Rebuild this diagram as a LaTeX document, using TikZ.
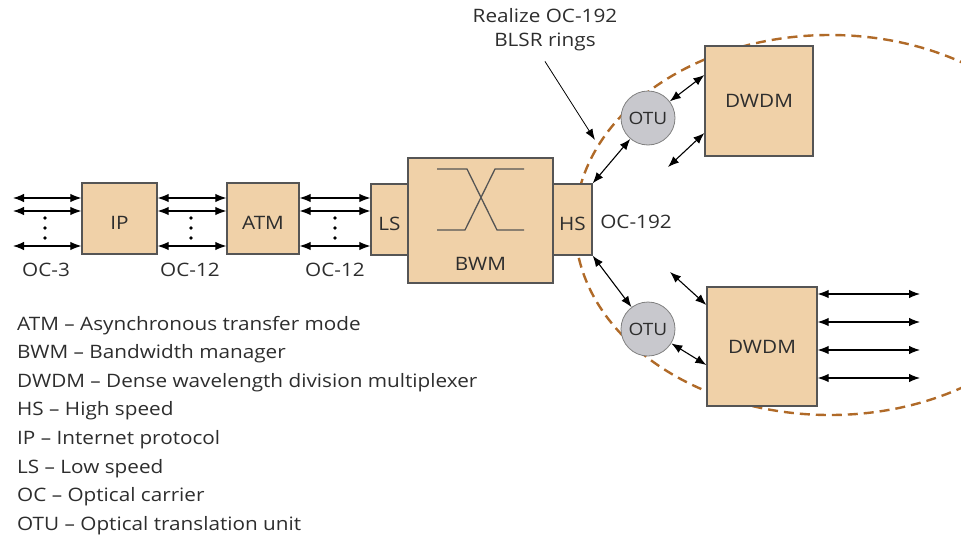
\documentclass[tikz,border=0pt]{standalone}
\usepackage{fontspec}
\setmainfont[FakeStretch=1.12]{Open Sans}
\usepackage{tikz}
\usetikzlibrary{
  arrows.meta,
  positioning
}
\definecolor{boxtan}{RGB}{240,209,168}
\definecolor{boxedge}{RGB}{85,85,85}
\definecolor{otugray}{RGB}{200,200,205}
\definecolor{ringbrown}{RGB}{176,106,40}
\definecolor{inkgray}{RGB}{45,45,45}

\begin{document}
\begin{tikzpicture}[x=1pt,y=-1pt,
  unit/.style={draw=boxedge,line width=1.3pt,fill=boxtan,inner sep=0pt,
    text=inkgray,font=\fontsize{18.5}{22}\selectfont},
  lowtext/.style={text height=21pt,text depth=0pt},
  otu/.style={circle,draw=black!50,line width=0.8pt,fill=otugray,
    minimum size=54pt,inner sep=0pt,text=inkgray,font=\fontsize{17}{20}\selectfont},
  link/.style={black,line width=1.1pt,
    {Latex[length=11pt,width=8.5pt]}-{Latex[length=11pt,width=8.5pt]}},
  lbl/.style={text=inkgray,inner sep=0pt,font=\fontsize{18.5}{22}\selectfont}]
  \useasboundingbox (0,0) rectangle (961,538);

  \begin{scope}
    \clip (0,0) rectangle (961,538);
    \draw[ringbrown,line width=2.4pt,dash pattern=on 10pt off 6pt]
      (830,225) ellipse [x radius=255pt,y radius=190pt];
  \end{scope}

  \node[unit,lowtext,minimum width=75pt,minimum height=71pt] (ip) at (119.5,218.5) {IP};
  \node[unit,lowtext,minimum width=72pt,minimum height=71pt] (atm) at (263,218.5) {ATM};
  \node[unit,lowtext,minimum width=37pt,minimum height=71pt] (ls) at (389.5,219.5) {LS};
  \node[unit,lowtext,minimum width=39pt,minimum height=71pt] (hs) at (572.5,219.5) {HS};
  \node[unit,minimum width=145pt,minimum height=125pt] (bwm) at (480.5,220.5) {};
  \node[lbl,above=13pt of bwm.south] (bwmname) {BWM};
  \draw[boxedge,line width=1.3pt] (437,169) -- (467,169) -- (497,230) -- (524,230);
  \draw[boxedge,line width=1.3pt] (437,230) -- (465,230) -- (495,169) -- (524,169);

  \node[otu] (otuA) at (648,118) {OTU};
  \node[otu] (otuB) at (648,329) {OTU};
  \node[unit,minimum width=108pt,minimum height=110pt] (dwdmA) at (759,101) {DWDM};
  \node[unit,minimum width=110pt,minimum height=119pt] (dwdmB) at (762,346.5) {DWDM};

  \node[lbl] (oc3) at (46,270) {OC-3};
  \node[lbl] (oc12a) at (190,270) {OC-12};
  \node[lbl] (oc12b) at (335,270) {OC-12};
  \node[lbl] (oc192) at (636,222) {OC-192};
  \node[lbl,align=center,font=\fontsize{18.5}{24}\selectfont] (realize) at (545,30)
    {Realize OC-192\\BLSR rings};

  \foreach \y in {198,211,246} {
    \draw[link] (13,\y) -- (ip.west |- 0,\y);
    \draw[link] (ip.east |- 0,\y) -- (atm.west |- 0,\y);
    \draw[link] (atm.east |- 0,\y) -- (ls.west |- 0,\y);
  }
  \foreach \x in {45,191,335}
    \foreach \d in {218,228,238}
      \fill[black] (\x,\d) circle (1.9pt);

  \coordinate (spareA) at (668,167);
  \coordinate (spareB) at (670,272);
  \coordinate (ringpt) at (595,140);
  \draw[link] (hs.north east) -- (otuA);
  \draw[link] (otuA) -- ([yshift=26pt]dwdmA.west);
  \draw[link] ([yshift=-32pt]dwdmA.west) -- (spareA);
  \draw[link] (hs.south east) -- (otuB);
  \draw[link] (spareB) -- ([yshift=41.5pt]dwdmB.west);
  \draw[link] (otuB) -- ([yshift=-18.5pt]dwdmB.west);
  \foreach \y in {294,322,350,378}
    \draw[link] (dwdmB.east |- 0,\y) -- (920,\y);
  \draw[black,line width=0.8pt,-{Latex[length=11pt,width=8pt]}]
    ([yshift=-10pt]realize.south) -- (ringpt);

  \foreach \abbr/\txt [count=\i from 0] in {ATM/Asynchronous transfer mode,
      BWM/Bandwidth manager,DWDM/Dense wavelength division multiplexer,
      HS/High speed,IP/Internet protocol,LS/Low speed,OC/Optical carrier,
      OTU/Optical translation unit}
    \node[lbl,anchor=base west] (key\i) at (17,{330+28.6*\i}) {\abbr\ – \txt};
\end{tikzpicture}
\end{document}
